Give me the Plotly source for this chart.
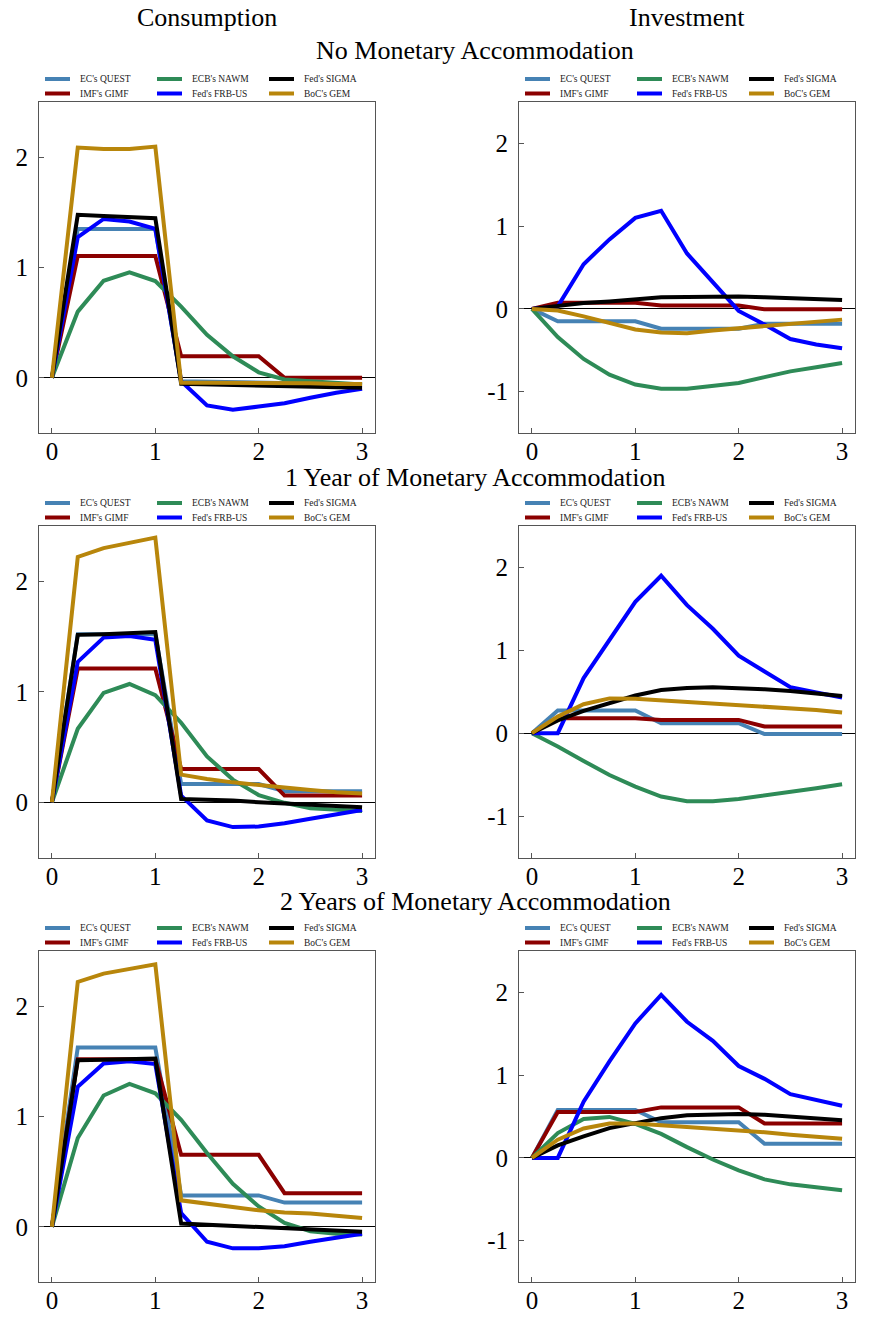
import plotly.graph_objects as go

W, H = 892, 1321

# quarters after the shock (years)
quarters = [0, 0.25, 0.5, 0.75, 1.0, 1.25, 1.5, 1.75, 2.0, 2.25, 2.5, 2.75, 3.0]

models = ["EC's QUEST", "IMF's GIMF", "ECB's NAWM", "Fed's FRB-US", "Fed's SIGMA", "BoC's GEM"]
model_colors = ["#4682B4", "#8B0000", "#2E8B57", "#0000FF", "#000000", "#B8860B"]

column_titles = ["Consumption", "Investment"]
scenario_titles = ["No Monetary Accommodation", "1 Year of Monetary Accommodation",
                   "2 Years of Monetary Accommodation"]

cons_ticks = [0, 1, 2]
cons_tick_text = ["0", "1", "2"]
inv_ticks = [-1, 0, 1, 2]
inv_tick_text = ["-1", "0", "1", "2"]
x_ticks = [0, 1, 2, 3]
x_tick_text = ["0", "1", "2", "3"]

# --- Consumption, no monetary accommodation
cons_none_quest = [0, 1.35, 1.35, 1.35, 1.35, -0.03, -0.035, -0.04, -0.04, -0.045, -0.05, -0.055, -0.06]
cons_none_gimf = [0, 1.105, 1.105, 1.105, 1.105, 0.195, 0.195, 0.195, 0.195, 0, 0, 0, 0]
cons_none_nawm = [0, 0.60, 0.88, 0.955, 0.877, 0.645, 0.39, 0.195, 0.05, -0.015, -0.03, -0.045, -0.06]
cons_none_frbus = [0, 1.276, 1.44, 1.417, 1.35, -0.03, -0.25, -0.29, -0.26, -0.23, -0.18, -0.135, -0.10]
cons_none_sigma = [0, 1.477, 1.467, 1.457, 1.447, -0.054, -0.06, -0.065, -0.07, -0.075, -0.08, -0.085, -0.09]
cons_none_gem = [0, 2.087, 2.075, 2.075, 2.096, -0.045, -0.045, -0.045, -0.05, -0.05, -0.05, -0.055, -0.055]

# --- Investment, no monetary accommodation
inv_none_quest = [0, -0.15, -0.15, -0.15, -0.15, -0.24, -0.24, -0.24, -0.24, -0.18, -0.18, -0.18, -0.18]
inv_none_gimf = [0, 0.075, 0.075, 0.075, 0.075, 0.04, 0.04, 0.04, 0.04, -0.005, -0.005, -0.005, -0.005]
inv_none_nawm = [0, -0.34, -0.605, -0.795, -0.915, -0.965, -0.965, -0.935, -0.895, -0.825, -0.755, -0.705, -0.655]
inv_none_frbus = [0, 0.03, 0.54, 0.84, 1.10, 1.185, 0.67, 0.33, -0.025, -0.19, -0.365, -0.43, -0.475]
inv_none_sigma = [0, 0.04, 0.07, 0.09, 0.11, 0.14, 0.145, 0.15, 0.15, 0.14, 0.13, 0.125, 0.108]
inv_none_gem = [0, -0.02, -0.09, -0.17, -0.25, -0.285, -0.295, -0.26, -0.235, -0.205, -0.18, -0.15, -0.13]

# --- Consumption, 1 year of accommodation
cons_1y_quest = [0, 1.52, 1.52, 1.52, 1.52, 0.165, 0.165, 0.165, 0.165, 0.10, 0.10, 0.10, 0.10]
cons_1y_gimf = [0, 1.21, 1.21, 1.21, 1.21, 0.30, 0.30, 0.30, 0.30, 0.06, 0.06, 0.06, 0.06]
cons_1y_nawm = [0, 0.665, 0.99, 1.07, 0.97, 0.72, 0.415, 0.205, 0.065, -0.005, -0.055, -0.07, -0.08]
cons_1y_frbus = [0, 1.27, 1.49, 1.505, 1.47, 0.06, -0.165, -0.225, -0.22, -0.19, -0.15, -0.11, -0.07]
cons_1y_sigma = [0, 1.515, 1.52, 1.53, 1.54, 0.03, 0.025, 0.015, 0.0, -0.01, -0.02, -0.03, -0.045]
cons_1y_gem = [0, 2.22, 2.30, 2.35, 2.395, 0.25, 0.21, 0.18, 0.155, 0.13, 0.11, 0.09, 0.08]

# --- Investment, 1 year of accommodation
inv_1y_quest = [0, 0.275, 0.275, 0.275, 0.275, 0.12, 0.12, 0.12, 0.12, -0.01, -0.01, -0.01, -0.01]
inv_1y_gimf = [0, 0.18, 0.18, 0.18, 0.18, 0.16, 0.16, 0.16, 0.16, 0.08, 0.08, 0.08, 0.08]
inv_1y_nawm = [0, -0.16, -0.335, -0.505, -0.645, -0.765, -0.82, -0.82, -0.795, -0.755, -0.705, -0.665, -0.615]
inv_1y_frbus = [0, 0, 0.665, 1.13, 1.585, 1.90, 1.545, 1.26, 0.935, 0.745, 0.556, 0.49, 0.43]
inv_1y_sigma = [0, 0.155, 0.27, 0.363, 0.455, 0.52, 0.545, 0.555, 0.545, 0.53, 0.51, 0.485, 0.45]
inv_1y_gem = [0, 0.2, 0.35, 0.42, 0.415, 0.395, 0.38, 0.363, 0.347, 0.323, 0.30, 0.28, 0.25]

# --- Consumption, 2 years of accommodation
cons_2y_quest = [0, 1.625, 1.625, 1.625, 1.625, 0.285, 0.285, 0.285, 0.285, 0.22, 0.22, 0.22, 0.22]
cons_2y_gimf = [0, 1.52, 1.52, 1.52, 1.52, 0.653, 0.653, 0.653, 0.653, 0.305, 0.305, 0.305, 0.305]
cons_2y_nawm = [0, 0.805, 1.19, 1.295, 1.21, 0.97, 0.67, 0.39, 0.185, 0.035, -0.04, -0.063, -0.07]
cons_2y_frbus = [0, 1.27, 1.48, 1.50, 1.475, 0.125, -0.135, -0.195, -0.195, -0.175, -0.135, -0.10, -0.063]
cons_2y_sigma = [0, 1.51, 1.515, 1.52, 1.525, 0.03, 0.02, 0.01, 0.0, -0.01, -0.025, -0.035, -0.045]
cons_2y_gem = [0, 2.22, 2.295, 2.34, 2.38, 0.24, 0.21, 0.18, 0.15, 0.13, 0.12, 0.10, 0.08]

# --- Investment, 2 years of accommodation
inv_2y_quest = [0, 0.58, 0.58, 0.58, 0.58, 0.43, 0.43, 0.43, 0.43, 0.17, 0.17, 0.17, 0.17]
inv_2y_gimf = [0, 0.555, 0.555, 0.555, 0.555, 0.61, 0.61, 0.61, 0.61, 0.415, 0.415, 0.415, 0.415]
inv_2y_nawm = [0, 0.30, 0.47, 0.495, 0.41, 0.29, 0.13, -0.02, -0.15, -0.26, -0.32, -0.36, -0.39]
inv_2y_frbus = [0, 0, 0.68, 1.165, 1.625, 1.97, 1.645, 1.415, 1.11, 0.955, 0.77, 0.70, 0.63]
inv_2y_sigma = [0, 0.15, 0.26, 0.36, 0.42, 0.48, 0.515, 0.52, 0.53, 0.52, 0.50, 0.48, 0.455]
inv_2y_gem = [0, 0.22, 0.355, 0.415, 0.415, 0.395, 0.375, 0.355, 0.33, 0.31, 0.28, 0.255, 0.23]

panel_series = [
    [cons_none_quest, cons_none_gimf, cons_none_nawm, cons_none_frbus, cons_none_sigma, cons_none_gem],
    [inv_none_quest, inv_none_gimf, inv_none_nawm, inv_none_frbus, inv_none_sigma, inv_none_gem],
    [cons_1y_quest, cons_1y_gimf, cons_1y_nawm, cons_1y_frbus, cons_1y_sigma, cons_1y_gem],
    [inv_1y_quest, inv_1y_gimf, inv_1y_nawm, inv_1y_frbus, inv_1y_sigma, inv_1y_gem],
    [cons_2y_quest, cons_2y_gimf, cons_2y_nawm, cons_2y_frbus, cons_2y_sigma, cons_2y_gem],
    [inv_2y_quest, inv_2y_gimf, inv_2y_nawm, inv_2y_frbus, inv_2y_sigma, inv_2y_gem],
]

# ---------------------------------------------------------------- layout
SERIF = "Liberation Serif"
FRAME = "#555555"

col_px = [(39, 375), (519, 855)]
row_px = [(102, 433), (526, 857.5), (951, 1282)]


def px_x(x):
    return x / W


def px_y(y):
    return 1 - y / H


fig = go.Figure()
layout = dict(
    width=W, height=H,
    margin=dict(l=0, r=0, t=0, b=0),
    paper_bgcolor="white", plot_bgcolor="white",
    showlegend=False,
    font=dict(family=SERIF, color="black"),
)
annotations = []
shapes = []
tick_font = dict(family=SERIF, size=25, color="black")

for k in range(6):
    r, c = divmod(k, 2)
    n = k + 1
    x0, x1 = col_px[c]
    y0, y1 = row_px[r]
    xa, ya = f"x{n}", f"y{n}"

    for name, color, ys in zip(models, model_colors, panel_series[k]):
        fig.add_trace(go.Scatter(
            x=quarters, y=ys, name=name, mode="lines",
            line=dict(color=color, width=4),
            xaxis=xa, yaxis=ya,
        ))

    if c == 0:
        yrange, tv, tt = [-0.5, 2.5], cons_ticks, cons_tick_text
    else:
        yrange, tv, tt = [-1.5, 2.5], inv_ticks, inv_tick_text

    layout[f"xaxis{n}"] = dict(
        domain=[px_x(x0), px_x(x1)], anchor=ya,
        range=[-0.125, 3.125], tickvals=x_ticks, ticktext=x_tick_text,
        ticks="inside", ticklen=5, tickcolor=FRAME, tickwidth=1,
        showline=True, linecolor=FRAME, linewidth=1, mirror=True,
        showgrid=False, zeroline=False,
        tickfont=tick_font,
        ticklabelstandoff=-4,
    )
    layout[f"yaxis{n}"] = dict(
        domain=[px_y(y1), px_y(y0)], anchor=xa,
        range=yrange, tickvals=tv, ticktext=tt,
        ticks="inside", ticklen=5, tickcolor=FRAME, tickwidth=1,
        showline=True, linecolor=FRAME, linewidth=1, mirror=True,
        showgrid=False, zeroline=True, zerolinecolor="black", zerolinewidth=1,
        tickfont=tick_font,
        ticklabelstandoff=5,
    )
    layout[f"yaxis{n + 6}"] = dict(
        overlaying=ya, anchor=xa, side="right",
        range=yrange, tickvals=tv, ticktext=tt,
        ticks="inside", ticklen=5, tickcolor=FRAME, tickwidth=1,
        showline=False, showgrid=False, zeroline=False,
        tickfont=tick_font,
        ticklabelstandoff=11,
    )

    # legend block above each panel: 3 columns x 2 rows
    for i, (name, color) in enumerate(zip(models, model_colors)):
        col, row = divmod(i, 2)
        lx = x0 + 6 + col * 112
        ly = y0 - 23 + row * 14.5
        shapes.append(dict(
            type="line", xref="paper", yref="paper",
            x0=px_x(lx), x1=px_x(lx + 25), y0=px_y(ly), y1=px_y(ly),
            line=dict(color=color, width=4),
        ))
        annotations.append(dict(
            xref="paper", yref="paper", x=px_x(lx + 33), y=px_y(ly),
            xanchor="left", yanchor="middle", showarrow=False,
            text=name, font=dict(family=SERIF, size=9.5, color="#222222"),
        ))

# column titles
for c, title in enumerate(column_titles):
    x0, x1 = col_px[c]
    annotations.append(dict(
        xref="paper", yref="paper", x=px_x((x0 + x1) / 2), y=px_y(17),
        xanchor="center", yanchor="middle", showarrow=False,
        text=title, font=dict(family=SERIF, size=26, color="black"),
    ))

# scenario titles
for y_pos, title in zip([51, 477, 901], scenario_titles):
    annotations.append(dict(
        xref="paper", yref="paper", x=px_x(475), y=px_y(y_pos),
        xanchor="center", yanchor="middle", showarrow=False,
        text=title, font=dict(family=SERIF, size=26, color="black"),
    ))

layout["annotations"] = annotations
layout["shapes"] = shapes
fig.update_layout(**layout)

fig.write_html("out.html")
